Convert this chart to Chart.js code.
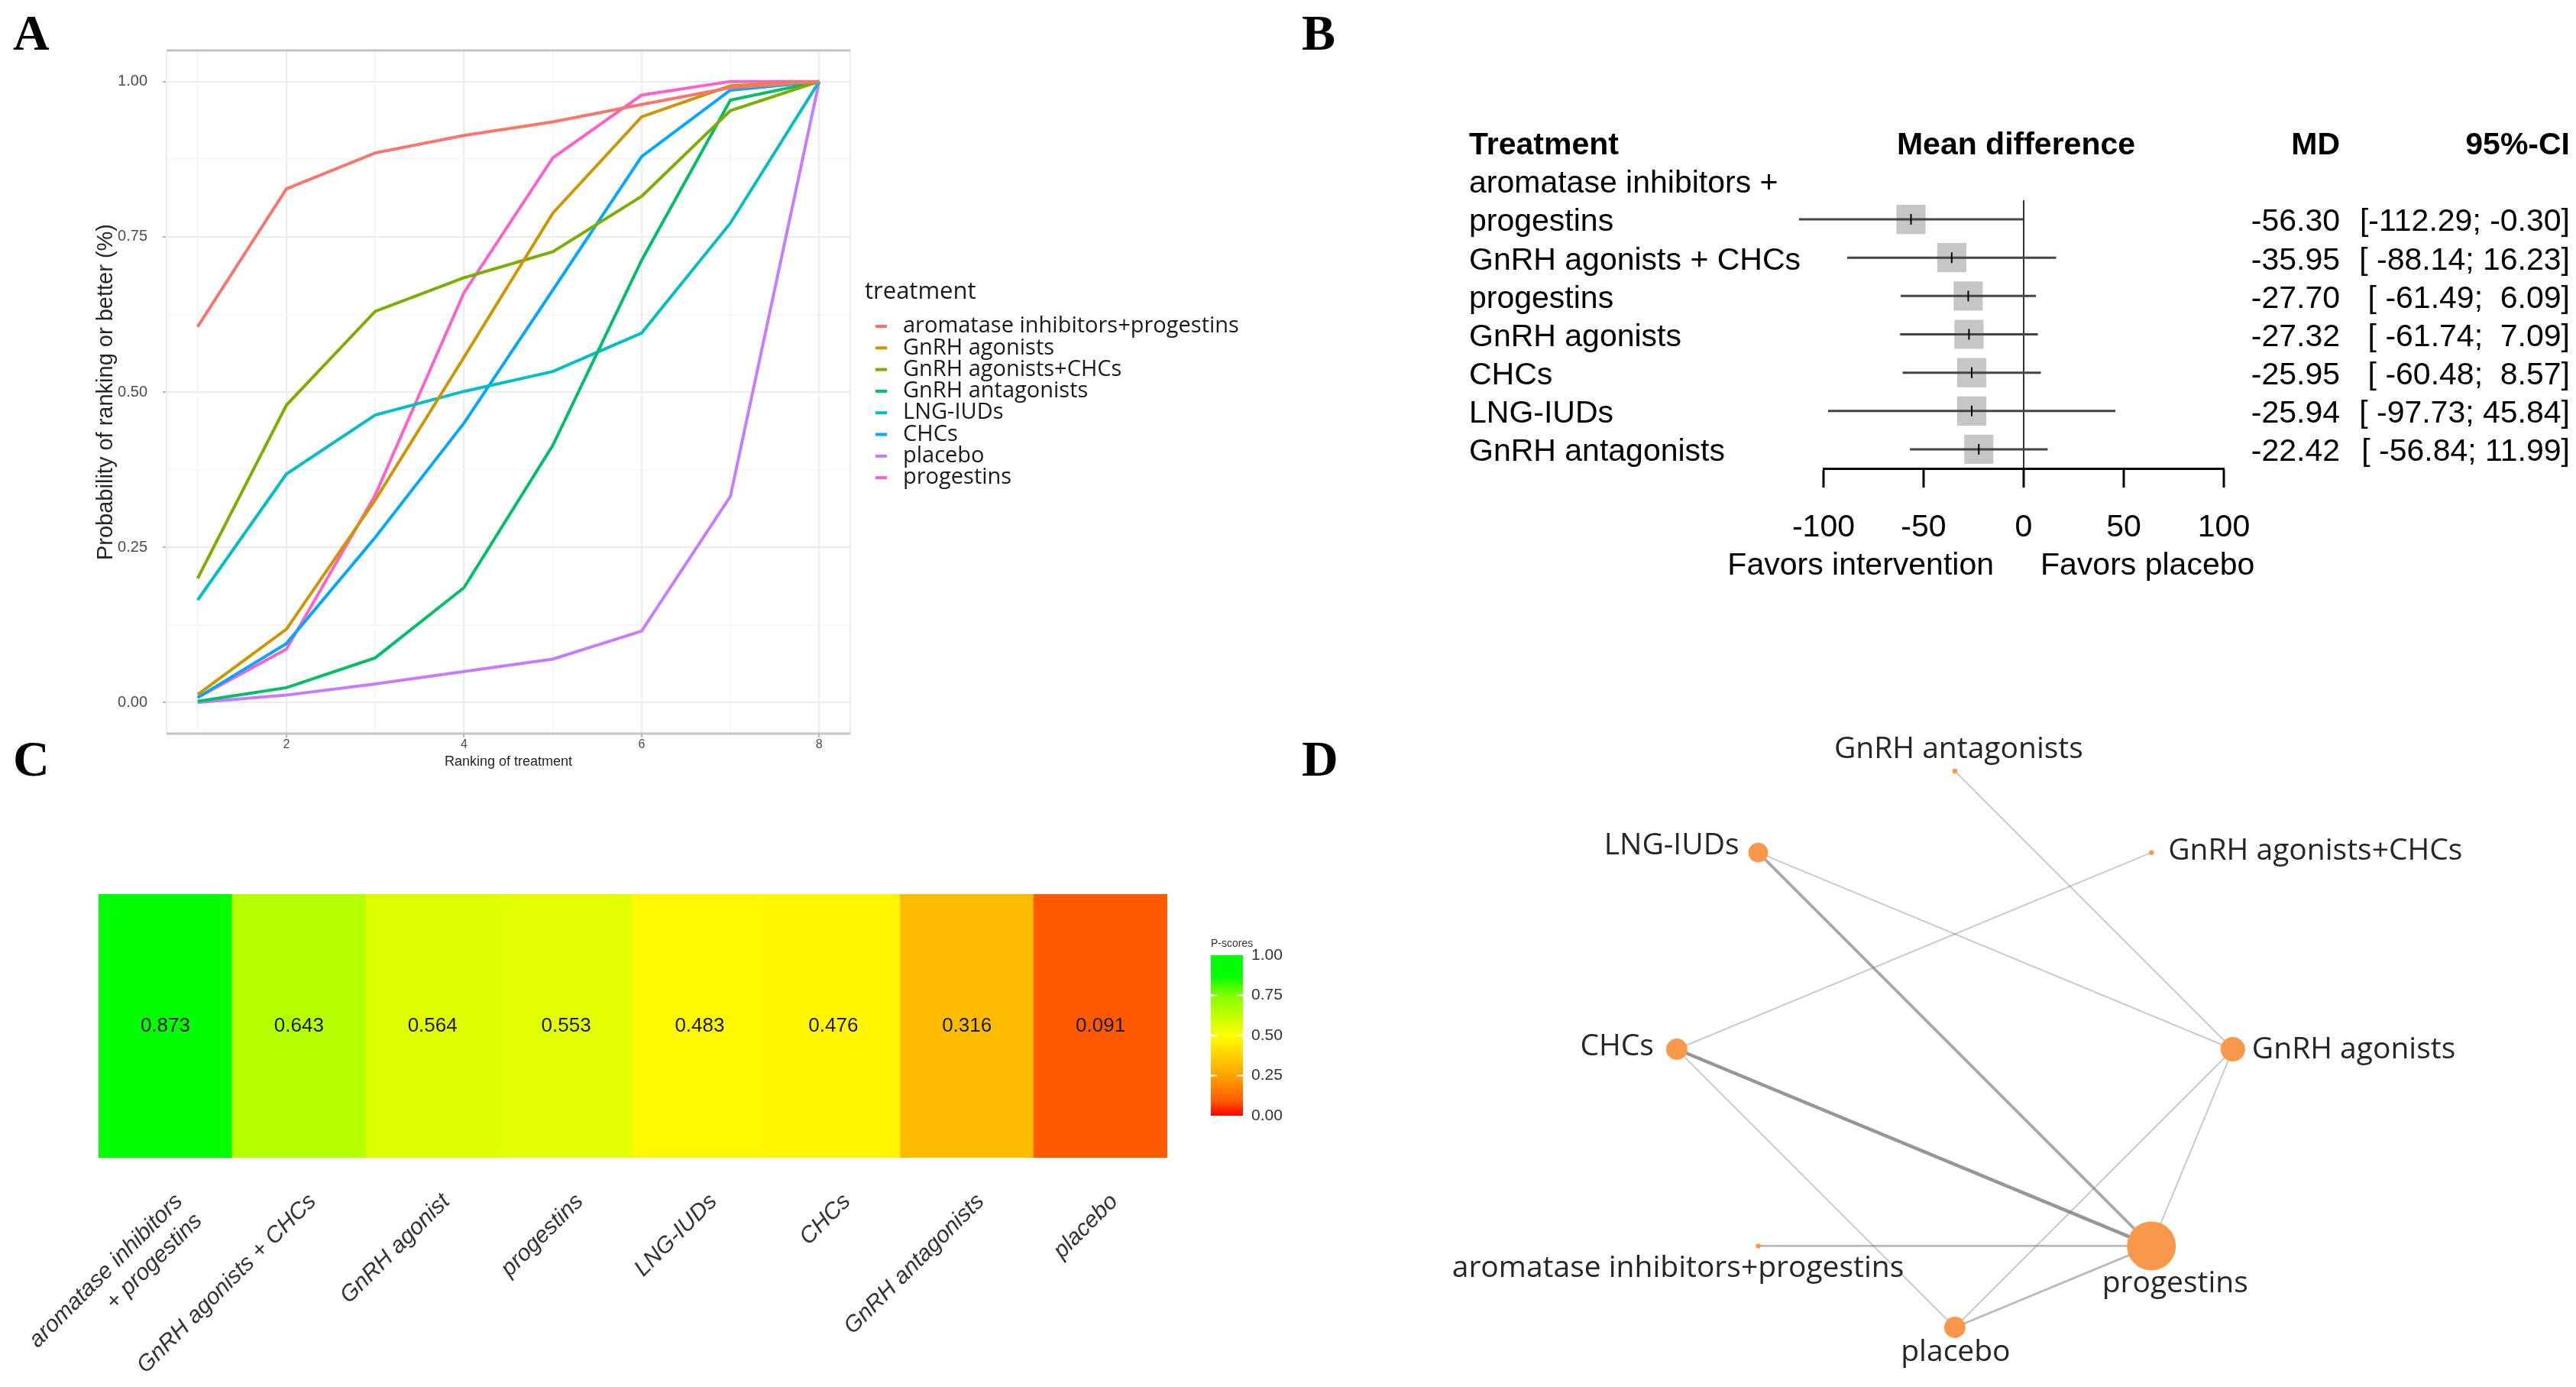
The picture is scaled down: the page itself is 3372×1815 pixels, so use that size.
<!DOCTYPE html>
<html>
<head>
<meta charset="utf-8">
<title>Treatment ranking, forest plot, P-scores and network</title>
<script src="https://cdn.jsdelivr.net/npm/chart.js@4.4.1/dist/chart.umd.min.js"></script>
<style>
  html, body { margin: 0; padding: 0; background: #fff; }
  body { position: relative; width: 3372px; height: 1815px; overflow: hidden; }
  canvas { position: absolute; }
  .tag { position: absolute; font: bold 66px "Liberation Serif", serif; line-height: 66px; color: #000; }
</style>
</head>
<body>
<canvas id="rankChart" width="1700" height="1010" style="left:0;top:0"></canvas>
<canvas id="forestChart" width="1672" height="900" style="left:1700px;top:0"></canvas>
<canvas id="scoreChart" width="1760" height="805" style="left:0;top:1010px"></canvas>
<canvas id="netChart" width="1612" height="915" style="left:1760px;top:900px"></canvas>
<div class="tag" style="left:17px;top:10px">A</div>
<div class="tag" style="left:1704px;top:10px">B</div>
<div class="tag" style="left:17px;top:960px">C</div>
<div class="tag" style="left:1704px;top:960px">D</div>
<script>
// ---- data -------------------------------------------------------------
// A: cumulative ranking probabilities
const ranks = [1, 2, 3, 4, 5, 6, 7, 8];
const rankTreatments = ['aromatase inhibitors+progestins', 'GnRH agonists', 'GnRH agonists+CHCs',
  'GnRH antagonists', 'LNG-IUDs', 'CHCs', 'placebo', 'progestins'];
const cumAromataseProgestins = [0.605, 0.827, 0.885, 0.913, 0.935, 0.963, 0.99, 1];
const cumGnrhAgonists       = [0.013, 0.118, 0.326, 0.556, 0.788, 0.943, 0.993, 1];
const cumGnrhAgonistsChcs   = [0.2, 0.479, 0.63, 0.684, 0.726, 0.815, 0.953, 1];
const cumGnrhAntagonists    = [0.002, 0.024, 0.072, 0.185, 0.414, 0.712, 0.97, 1];
const cumLngIuds            = [0.165, 0.368, 0.463, 0.501, 0.533, 0.595, 0.772, 1];
const cumChcs               = [0.008, 0.095, 0.266, 0.45, 0.664, 0.879, 0.986, 1];
const cumPlacebo            = [0, 0.012, 0.03, 0.05, 0.07, 0.115, 0.332, 1];
const cumProgestins         = [0.008, 0.086, 0.334, 0.66, 0.877, 0.978, 1, 1];
const rankSeries = [cumAromataseProgestins, cumGnrhAgonists, cumGnrhAgonistsChcs, cumGnrhAntagonists,
  cumLngIuds, cumChcs, cumPlacebo, cumProgestins];
const probTicks = [0, 0.25, 0.5, 0.75, 1];

// B: forest plot vs placebo
const forestTreatments = [['aromatase inhibitors +', 'progestins'], 'GnRH agonists + CHCs', 'progestins',
  'GnRH agonists', 'CHCs', 'LNG-IUDs', 'GnRH antagonists'];
const forestMD    = [-56.30, -35.95, -27.70, -27.32, -25.95, -25.94, -22.42];
const forestLower = [-112.29, -88.14, -61.49, -61.74, -60.48, -97.73, -56.84];
const forestUpper = [-0.30, 16.23, 6.09, 7.09, 8.57, 45.84, 11.99];
const forestTicks = [-100, -50, 0, 50, 100];

// C: P-scores
const scoreTreatments = [['aromatase inhibitors', '+ progestins'], 'GnRH agonists + CHCs', 'GnRH agonist',
  'progestins', 'LNG-IUDs', 'CHCs', 'GnRH antagonists', 'placebo'];
const pScores = [0.873, 0.643, 0.564, 0.553, 0.483, 0.476, 0.316, 0.091];
const pScoreTicks = [0, 0.25, 0.5, 0.75, 1];

// D: network of comparisons (nodes in circle order, clockwise from top)
const netNodes = ['GnRH antagonists', 'GnRH agonists+CHCs', 'GnRH agonists', 'progestins', 'placebo',
  'aromatase inhibitors+progestins', 'CHCs', 'LNG-IUDs'];
const netNodeWeight = [1, 1, 25, 100, 19, 1, 19, 16];
const netEdges = [
  ['GnRH antagonists', 'GnRH agonists'],
  ['GnRH agonists+CHCs', 'CHCs'],
  ['LNG-IUDs', 'GnRH agonists'],
  ['LNG-IUDs', 'progestins'],
  ['CHCs', 'progestins'],
  ['CHCs', 'placebo'],
  ['aromatase inhibitors+progestins', 'progestins'],
  ['GnRH agonists', 'placebo'],
  ['GnRH agonists', 'progestins'],
  ['placebo', 'progestins']
];
const netEdgeWeight = [1, 1, 1, 3, 4, 1, 2, 1, 1, 2];

// ---- styles -----------------------------------------------------------
const hueColors = ['#F8766D', '#CD9600', '#7CAE00', '#00BE67', '#00BFC4', '#00A9FF', '#C77CFF', '#FF61CC'];
const pScoreStops = [[0, [255, 0, 0]], [0.09, [255, 90, 0]], [0.25, [255, 163, 0]], [0.5, [255, 255, 0]],
  [0.75, [128, 255, 0]], [0.87, [0, 255, 0]], [1, [0, 255, 0]]];
const netLabelPlacement = {
  'GnRH antagonists': { dx: 5, dy: -28, align: 'center' },
  'GnRH agonists+CHCs': { dx: 22, dy: -2, align: 'left' },
  'GnRH agonists': { dx: 25, dy: 1, align: 'left' },
  'progestins': { dx: 31, dy: 50, align: 'center' },
  'placebo': { dx: 1, dy: 33, align: 'center' },
  'aromatase inhibitors+progestins': { dx: -105, dy: 30, align: 'center' },
  'CHCs': { dx: -30, dy: -3, align: 'right' },
  'LNG-IUDs': { dx: -25, dy: -9, align: 'right' }
};

Chart.defaults.font.family = '"Liberation Sans", Arial, sans-serif';
Chart.defaults.plugins.legend.display = false;
Chart.defaults.plugins.tooltip.enabled = false;

const baseOptions = { responsive: false, animation: false, devicePixelRatio: 1, events: [] };

function scoreColour(v) {
  for (let i = 1; i < pScoreStops.length; i++) {
    const [v1, c1] = pScoreStops[i];
    const [v0, c0] = pScoreStops[i - 1];
    if (v <= v1) {
      const t = (v - v0) / (v1 - v0);
      const c = c0.map((a, k) => Math.round(a + (c1[k] - a) * t));
      return 'rgb(' + c.join(',') + ')';
    }
  }
  return 'rgb(0,255,0)';
}

function isMajor(v) {
  return probTicks.some(t => Math.abs(t - v) < 1e-9);
}

// ---- A: ranking curves -------------------------------------------------
const panelFrame = {
  id: 'panelFrame',
  beforeDatasetsDraw(chart) {
    const { ctx, chartArea: a } = chart;
    ctx.save();
    ctx.strokeStyle = '#ececec';
    ctx.lineWidth = 2;
    ctx.beginPath();
    ctx.moveTo(a.left, a.top); ctx.lineTo(a.left, a.bottom);
    ctx.moveTo(a.right, a.top); ctx.lineTo(a.right, a.bottom);
    ctx.stroke();
    ctx.strokeStyle = '#c4c4c4';
    ctx.lineWidth = 3;
    ctx.beginPath();
    ctx.moveTo(a.left, a.top); ctx.lineTo(a.right, a.top);
    ctx.moveTo(a.left, a.bottom); ctx.lineTo(a.right, a.bottom);
    ctx.stroke();
    ctx.restore();
  }
};

const rankLegend = {
  id: 'rankLegend',
  afterDraw(chart) {
    const ctx = chart.ctx;
    ctx.save();
    ctx.textAlign = 'left';
    ctx.textBaseline = 'middle';
    ctx.fillStyle = '#1a1a1a';
    ctx.font = '31px "Open Sans"';
    ctx.fillText('treatment', 1132, 382);
    ctx.font = '29px "Open Sans"';
    chart.data.datasets.forEach((ds, i) => {
      const y = 427 + i * 28.3;
      ctx.strokeStyle = ds.borderColor;
      ctx.lineWidth = 4;
      ctx.beginPath();
      ctx.moveTo(1146, y);
      ctx.lineTo(1161, y);
      ctx.stroke();
      ctx.fillText(ds.label, 1182, y);
    });
    ctx.restore();
  }
};

new Chart(document.getElementById('rankChart'), {
  type: 'line',
  data: {
    datasets: rankTreatments.map((t, i) => ({
      label: t,
      data: ranks.map((r, k) => ({ x: r, y: rankSeries[i][k] })),
      borderColor: hueColors[i],
      borderWidth: 4,
      pointRadius: 0,
      tension: 0
    }))
  },
  options: {
    ...baseOptions,
    layout: { autoPadding: false, padding: { left: 100, top: 66, right: 587, bottom: 0 } },
    scales: {
      x: {
        type: 'linear', min: 0.65, max: 8.35,
        afterBuildTicks: s => { s.ticks = ranks.map(v => ({ value: v })); },
        afterFit: s => { s.height = 50; },
        ticks: { callback: v => (v % 2 === 0 ? String(v) : ''), font: { size: 16 }, color: '#4d4d4d',
          padding: 0, maxRotation: 0, autoSkip: false },
        grid: { color: c => (c.tick && c.tick.value % 2 === 0 ? '#ebebeb' : '#f3f3f3'),
          lineWidth: c => (c.tick && c.tick.value % 2 === 0 ? 2 : 1.5),
          tickLength: 5, tickWidth: 2,
          tickColor: c => (c.tick && c.tick.value % 2 === 0 ? '#b3b3b3' : 'rgba(0,0,0,0)') },
        border: { display: false },
        title: { display: true, text: 'Ranking of treatment', font: { size: 18 }, color: '#262626',
          padding: { top: 0, bottom: 2 } }
      },
      y: {
        min: -0.05, max: 1.05,
        afterBuildTicks: s => {
          const t = [];
          probTicks.forEach((v, i) => {
            t.push({ value: v });
            if (i < probTicks.length - 1) t.push({ value: (v + probTicks[i + 1]) / 2 });
          });
          s.ticks = t;
        },
        afterFit: s => { s.width = 118; },
        ticks: { callback: v => (isMajor(v) ? v.toFixed(2) : ''), font: { size: 20 }, color: '#4d4d4d',
          padding: 20, autoSkip: false },
        grid: { color: c => (c.tick && isMajor(c.tick.value) ? '#ebebeb' : '#f3f3f3'),
          lineWidth: c => (c.tick && isMajor(c.tick.value) ? 2 : 1.5),
          tickLength: 5, tickWidth: 2,
          tickColor: c => (c.tick && isMajor(c.tick.value) ? '#b3b3b3' : 'rgba(0,0,0,0)') },
        border: { display: false },
        title: { display: true, text: 'Probability of ranking or better (%)', font: { size: 29 },
          color: '#262626', padding: { top: 22, bottom: 0 } }
      }
    }
  },
  plugins: [panelFrame, rankLegend]
});

// ---- B: forest plot ----------------------------------------------------
function fmtCI(lo, hi) {
  return '[' + lo.toFixed(2).padStart(7, ' ') + '; ' + hi.toFixed(2).padStart(5, ' ') + ']';
}

const forestText = {
  id: 'forestText',
  afterDraw(chart) {
    const { ctx } = chart;
    const y = chart.scales.y;
    const x = chart.scales.x;
    const step = Math.abs(y.getPixelForValue(1) - y.getPixelForValue(0));
    const nudge = 4; // text sits a touch lower than the row centre
    ctx.save();
    ctx.fillStyle = '#000';
    ctx.textBaseline = 'middle';
    // header
    const hy = y.getPixelForValue(-2) + nudge;
    ctx.font = 'bold 41px "Liberation Sans"';
    ctx.textAlign = 'left';
    ctx.fillText('Treatment', 223, hy);
    ctx.textAlign = 'center';
    ctx.fillText('Mean difference', 939, hy);
    ctx.textAlign = 'right';
    ctx.fillText('MD', 1363, hy);
    ctx.fillText('95%-CI', 1664, hy);
    // rows
    ctx.font = '41px "Liberation Sans"';
    forestTreatments.forEach((name, i) => {
      const ry = y.getPixelForValue(i) + nudge;
      const lines = Array.isArray(name) ? name : [name];
      ctx.textAlign = 'left';
      lines.forEach((ln, k) => ctx.fillText(ln, 223, ry - (lines.length - 1 - k) * step));
      ctx.textAlign = 'right';
      ctx.fillText(forestMD[i].toFixed(2), 1363, ry);
      ctx.fillText(fmtCI(forestLower[i], forestUpper[i]), 1664, ry);
    });
    // favours labels
    const x0 = x.getPixelForValue(0);
    ctx.textAlign = 'right';
    ctx.fillText('Favors intervention', x0 - 39, 741);
    ctx.textAlign = 'left';
    ctx.fillText('Favors placebo', x0 + 22, 741);
    ctx.restore();
  }
};

new Chart(document.getElementById('forestChart'), {
  type: 'scatter',
  data: {
    datasets: [
      { data: forestMD.map((m, i) => ({ x: m, y: i })), pointStyle: 'rect', pointRadius: 27,
        backgroundColor: '#c6c6c6', borderWidth: 0, order: 3 },
      ...forestMD.map((m, i) => ({
        data: [{ x: forestLower[i], y: i }, { x: forestUpper[i], y: i }],
        showLine: true, borderColor: '#444', borderWidth: 3, pointRadius: 0, clip: false, order: 2
      })),
      { data: forestMD.map((m, i) => ({ x: m, y: i })), pointStyle: 'line', rotation: 90, pointRadius: 7,
        borderColor: '#000', borderWidth: 2, order: 1 }
    ]
  },
  options: {
    ...baseOptions,
    layout: { autoPadding: false, padding: { left: 687, right: 461, top: 262, bottom: 187 } },
    scales: {
      x: {
        type: 'linear', min: -100, max: 100,
        afterBuildTicks: s => { s.ticks = forestTicks.map(v => ({ value: v })); },
        afterFit: s => { s.height = 100; },
        ticks: { font: { size: 41 }, color: '#000', padding: 28, maxRotation: 0, autoSkip: false },
        grid: { color: c => (c.tick && c.tick.value === 0 ? '#333' : 'rgba(0,0,0,0)'), lineWidth: 2,
          tickLength: 25, tickWidth: 3, tickColor: '#000' },
        border: { display: true, color: '#000', width: 3 }
      },
      y: { type: 'linear', min: -0.5, max: 6.5, reverse: true, display: false }
    }
  },
  plugins: [forestText]
});

// ---- C: P-score heat strip --------------------------------------------
const scoreText = {
  id: 'scoreText',
  afterDatasetsDraw(chart) {
    const { ctx } = chart;
    ctx.save();
    ctx.font = '26px "Liberation Sans"';
    ctx.fillStyle = '#1a1a1a';
    ctx.textAlign = 'center';
    ctx.textBaseline = 'middle';
    chart.getDatasetMeta(0).data.forEach((bar, i) => {
      ctx.fillText(pScores[i].toFixed(3), bar.x, (bar.y + bar.base) / 2);
    });
    ctx.restore();
  }
};

const scoreBar = {
  id: 'scoreBar',
  afterDraw(chart) {
    const { ctx } = chart;
    const left = 1585, right = 1627, top = 240, bottom = 450;
    ctx.save();
    const g = ctx.createLinearGradient(0, bottom, 0, top);
    pScoreStops.forEach(([v]) => g.addColorStop(v, scoreColour(v)));
    ctx.fillStyle = g;
    ctx.fillRect(left, top, right - left, bottom - top);
    ctx.strokeStyle = '#fff';
    ctx.lineWidth = 2;
    ctx.font = '21px "Liberation Sans"';
    ctx.fillStyle = '#333';
    ctx.textAlign = 'left';
    ctx.textBaseline = 'middle';
    pScoreTicks.forEach(v => {
      const y = bottom - v * (bottom - top);
      if (v > 0 && v < 1) {
        ctx.beginPath();
        ctx.moveTo(left, y); ctx.lineTo(left + 8, y);
        ctx.moveTo(right - 8, y); ctx.lineTo(right, y);
        ctx.stroke();
      }
      ctx.fillText(v.toFixed(2), 1638, y);
    });
    ctx.font = '14px "Liberation Sans"';
    ctx.fillText('P-scores', left, 225);
    ctx.restore();
  }
};

new Chart(document.getElementById('scoreChart'), {
  type: 'bar',
  data: {
    labels: scoreTreatments,
    datasets: [{
      data: pScores.map(() => 1),
      backgroundColor: pScores.map(scoreColour),
      barPercentage: 1, categoryPercentage: 1, borderWidth: 0
    }]
  },
  options: {
    ...baseOptions,
    layout: { autoPadding: false, padding: { left: 129, right: 232, top: 160, bottom: 0 } },
    scales: {
      x: {
        grid: { display: false }, border: { display: false },
        afterFit: s => { s.height = 300; s.paddingLeft = 0; s.paddingRight = 0; },
        ticks: { font: { size: 30, style: 'italic' }, color: '#333', minRotation: 45, maxRotation: 45,
          autoSkip: false, padding: 32, labelOffset: 18 }
      },
      y: { min: 0, max: 1, display: false }
    }
  },
  plugins: [scoreText, scoreBar]
});

// ---- D: network graph --------------------------------------------------
const netView = { xMin: -2.195, xMax: 2.234, yMin: -1.2143, yMax: 1.2995 };

function nodePoint(name) {
  const i = netNodes.indexOf(name);
  const a = (90 - 45 * i) * Math.PI / 180;
  return { x: Math.cos(a), y: Math.sin(a) };
}

const netLabels = {
  id: 'netLabels',
  afterDatasetsDraw(chart) {
    const { ctx } = chart;
    const pts = chart.getDatasetMeta(0).data;
    ctx.save();
    ctx.font = '39px "Open Sans"';
    ctx.fillStyle = '#262626';
    ctx.textBaseline = 'middle';
    netNodes.forEach((name, i) => {
      const p = netLabelPlacement[name];
      ctx.textAlign = p.align;
      ctx.fillText(name, pts[i].x + p.dx, pts[i].y + p.dy);
    });
    ctx.restore();
  }
};

new Chart(document.getElementById('netChart'), {
  type: 'scatter',
  data: {
    datasets: [
      { data: netNodes.map(nodePoint), pointRadius: netNodeWeight.map(w => 3.2 * Math.sqrt(w)),
        backgroundColor: '#f9984a', borderWidth: 0, order: 0, clip: false },
      ...netEdges.map((e, i) => ({
        data: [nodePoint(e[0]), nodePoint(e[1])],
        showLine: true, pointRadius: 0, order: 1,
        borderWidth: 1.3 + 0.8 * netEdgeWeight[i],
        borderColor: 'rgba(110,110,110,' + (0.24 + 0.12 * netEdgeWeight[i]) + ')'
      }))
    ]
  },
  options: {
    ...baseOptions,
    layout: { autoPadding: false, padding: 0 },
    scales: {
      x: { type: 'linear', min: netView.xMin, max: netView.xMax, display: false },
      y: { type: 'linear', min: netView.yMin, max: netView.yMax, display: false }
    }
  },
  plugins: [netLabels]
});
</script>
</body>
</html>
